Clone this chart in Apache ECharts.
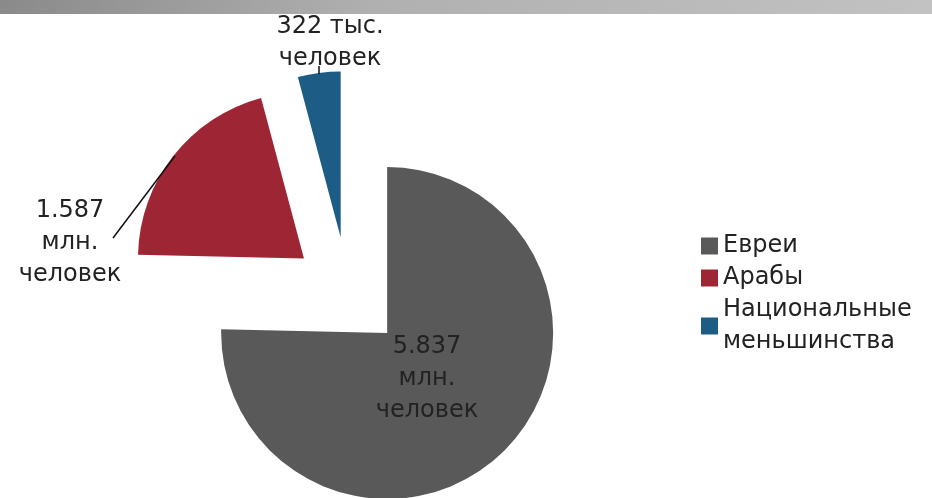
<!DOCTYPE html>
<html>
<head>
<meta charset="utf-8">
<script src="https://cdn.jsdelivr.net/npm/echarts@6/dist/echarts.min.js"></script>
<style>
html,body{margin:0;padding:0;background:#fff;}
#main{width:932px;height:498px;}
</style>
</head>
<body>
<div id="main"></div>
<script>
// население, тыс. человек
var categories = ['Евреи', 'Арабы', 'Национальные\nменьшинства'];
var values = [5837, 1587, 322];
var labelTexts = ['5.837\nмлн.\nчеловек', '1.587\nмлн.\nчеловек', '322 тыс.\nчеловек'];
var colors = ['#595959', '#9e2534', '#1d5c85'];

// label centres and leader lines (labels go on an unexploded copy of the pie,
// because the selected state would move them)
var labelAt = [[427, 379], [70, 243], [330, 43]];
var leaderLines = [null, [[113, 238], [144, 197], [175, 156]], [[319, 66], [319, 70], [319, 74]]];

var chartDom = document.getElementById('main');
var myChart = echarts.init(chartDom);

var slices = categories.map(function (name, i) {
  return { name: name, value: values[i], selected: true, itemStyle: { color: colors[i] } };
});
var labelSlices = categories.map(function (name, i) {
  return { name: name, value: values[i], labelLine: { show: leaderLines[i] != null } };
});

var pieBase = {
  type: 'pie',
  center: [348, 293],
  radius: 166,
  startAngle: 90,
  clockwise: true,
  avoidLabelOverlap: false,
  emphasis: { disabled: true }
};

var option = {
  animation: false,
  textStyle: { fontFamily: 'DejaVu Sans' },
  graphic: [{
    type: 'rect',
    shape: { x: 0, y: 0, width: 932, height: 14 },
    style: {
      fill: new echarts.graphic.LinearGradient(0, 0, 1, 0, [
        { offset: 0, color: '#8a8a8a' },
        { offset: 0.4, color: '#b0b0b0' },
        { offset: 1, color: '#c2c2c2' }
      ])
    },
    z: 10
  }],
  legend: {
    orient: 'vertical',
    left: 696,
    top: 225,
    itemWidth: 17,
    itemHeight: 17,
    itemGap: 0,
    icon: 'rect',
    selectedMode: false,
    textStyle: { fontSize: 24, color: '#222', lineHeight: 32 },
    data: categories
  },
  series: [
    echarts.util.extend({
      name: 'slices',
      selectedMode: 'multiple',
      selectedOffset: 56,
      label: { show: false },
      labelLine: { show: false },
      data: slices
    }, pieBase),
    echarts.util.extend({
      name: 'labels',
      silent: true,
      z: 3,
      selectedMode: false,
      itemStyle: { color: 'rgba(0,0,0,0)' },
      label: {
        show: true,
        position: 'outside',
        formatter: function (p) { return labelTexts[p.dataIndex]; },
        fontSize: 24,
        lineHeight: 32,
        color: '#222',
        align: 'center'
      },
      labelLine: { show: true, lineStyle: { color: '#111', width: 1.5 } },
      labelLayout: function (params) {
        var i = params.dataIndex;
        var res = { x: labelAt[i][0], y: labelAt[i][1], align: 'center', verticalAlign: 'middle' };
        if (leaderLines[i]) res.labelLinePoints = leaderLines[i];
        return res;
      },
      data: labelSlices
    }, pieBase)
  ]
};
myChart.setOption(option);
</script>
</body>
</html>
